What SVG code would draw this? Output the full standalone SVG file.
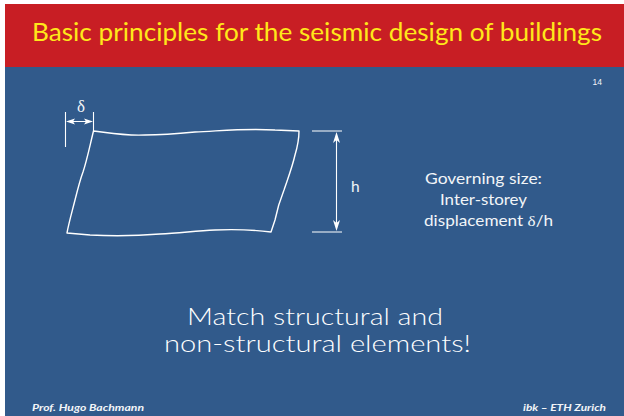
<svg xmlns="http://www.w3.org/2000/svg" width="624" height="416" viewBox="0 0 624 416">
<style>
text{font-family:"Lato","Open Sans","Liberation Sans",sans-serif;fill:#f2f5f8}
.l{fill:none;stroke:#fff;stroke-width:1.4;stroke-linejoin:round;stroke-linecap:round}
.d{fill:none;stroke:#fff;stroke-width:1.1}
.a{fill:#fff;stroke:none}
.f{font-size:9.5px;font-style:italic;font-weight:700}
.m{font-size:15px}
.b{font-size:22.500px;font-weight:300;fill:#fff}
.s{font-family:"Liberation Serif",serif}
</style>
<rect width="624" height="416" fill="#fff"/>
<rect x="5" y="4" width="619" height="412" fill="#315a8b"/>
<rect x="5" y="4" width="619" height="63" fill="#c81e24"/>
<text x="32" y="41" font-size="24.500" textLength="570" lengthAdjust="spacingAndGlyphs" style="fill:#ffe81a">Basic principles for the seismic design of buildings</text>
<text x="602" y="85" font-size="8.500" text-anchor="end" style="font-family:'Liberation Sans',sans-serif">14</text>
<g id="frame"><path class="l" d="M93.500 131C110 133 125 136 145 135C165 135 175 134 195 132C220 131 245 128 275 130L299 131C299 140 298 145 295 155C292 168 288 178 284 190C280 200 277 210 275 220L271 232C255 230 240 229 215 230C195 231 180 233 160 234C135 236 110 236 90 235L67 233C69 222 72 212 75 200C78 188 80 180 83 172C87 160 90 145 93.500 131Z"/></g>
<g id="connectors">
<path class="d" d="M65.500 112V147M93.500 112V131M312 131H342M312 232H342M69 121.500H90M336.500 135V228"/>
<path class="a" d="M66 121.500L75 118.500L73 121.500L75 124.500ZM93 121.500L84 118.500L86 121.500L84 124.500ZM336.500 132L333 143L336.500 140L340 143ZM336.500 231L333 220L336.500 223L340 220Z"/>
</g>
<g id="labels">
<text class="s" x="81" y="112" font-size="17" text-anchor="middle">δ</text>
<text x="351" y="192" font-size="15.500">h</text>
<text class="m" x="425" y="184" textLength="117" lengthAdjust="spacingAndGlyphs">Governing size:</text>
<text class="m" x="440" y="205" textLength="87" lengthAdjust="spacingAndGlyphs">Inter-storey</text>
<text class="m" x="424" y="226" textLength="129" lengthAdjust="spacingAndGlyphs">displacement <tspan class="s">δ</tspan>/h</text>
<text class="b" x="187" y="324.500" textLength="256" lengthAdjust="spacingAndGlyphs">Match structural and</text>
<text class="b" x="164" y="351.500" textLength="307" lengthAdjust="spacingAndGlyphs">non-structural elements!</text>
<text class="f" x="32" y="411" textLength="112" lengthAdjust="spacingAndGlyphs">Prof. Hugo Bachmann</text>
<text class="f" x="523" y="411" textLength="83" lengthAdjust="spacingAndGlyphs">ibk – ETH Zurich</text>
</g>
</svg>
